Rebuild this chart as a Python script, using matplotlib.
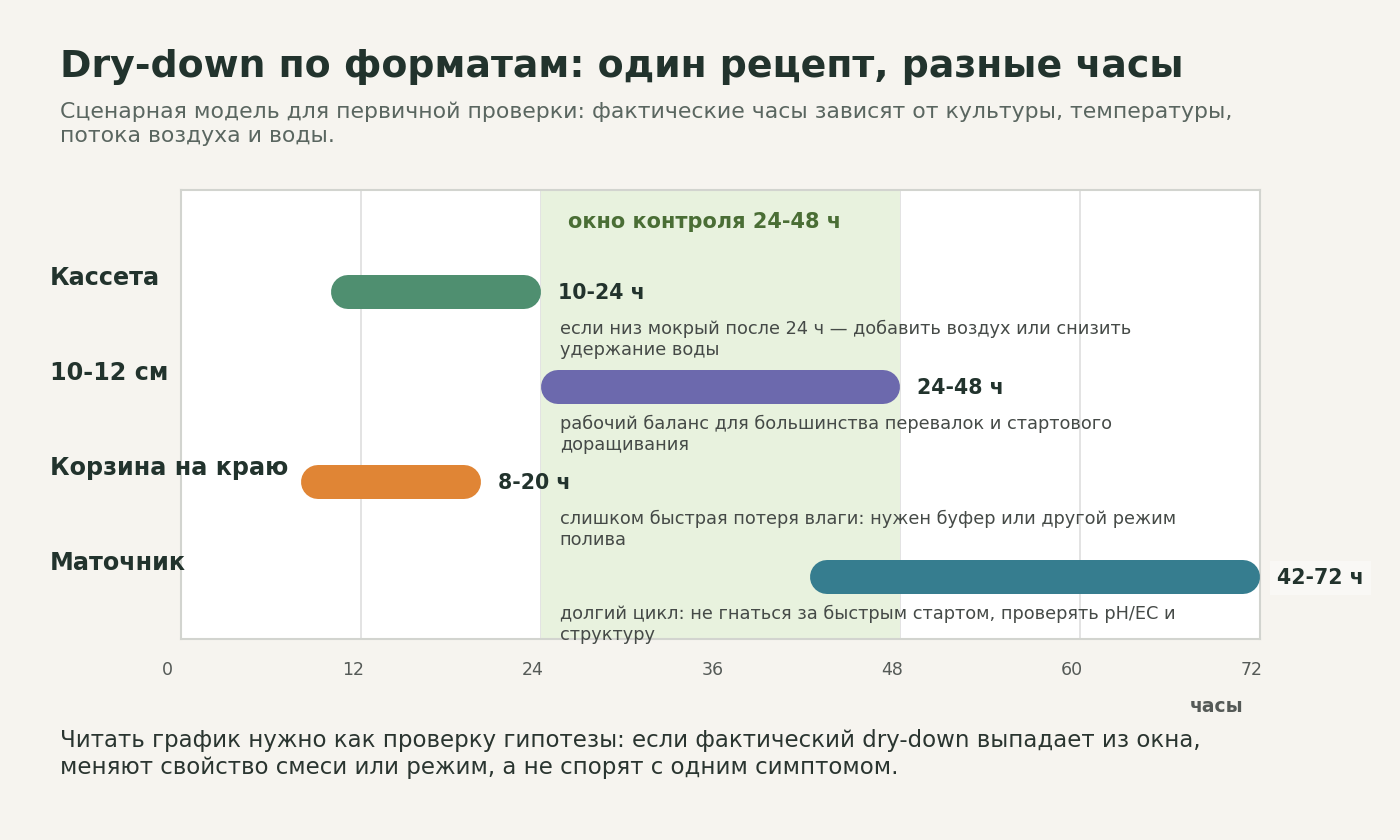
import matplotlib
matplotlib.use("Agg")
import matplotlib.pyplot as plt
from matplotlib.transforms import ScaledTranslation

plt.rcParams['font.family'] = ['DejaVu Sans']

categories = ["Кассета", "10-12 см", "Корзина на краю", "Маточник"]
starts = [10, 24, 8, 42]
ends = [24, 48, 20, 72]
range_labels = ["10-24 ч", "24-48 ч", "8-20 ч", "42-72 ч"]
notes = [
    "если низ мокрый после 24 ч — добавить воздух или снизить\nудержание воды",
    "рабочий баланс для большинства перевалок и стартового\nдоращивания",
    "слишком быстрая потеря влаги: нужен буфер или другой режим\nполива",
    "долгий цикл: не гнаться за быстрым стартом, проверять pH/EC и\nструктуру",
]
colors = ["#4f8f70", "#6c69ad", "#e08535", "#367d8f"]
window = (24, 48)
xticks = [0, 12, 24, 36, 48, 60, 72]

BG = "#f6f4ef"
DARK = "#22332d"

W, H, DPI = 14, 8.4, 100
fig = plt.figure(figsize=(W, H), dpi=DPI, facecolor=BG)
ax_left, ax_right, ax_top, ax_bot = 181, 1260, 190, 639
ax = fig.add_axes([ax_left / 1400, 1 - ax_bot / 840,
                   (ax_right - ax_left) / 1400, (ax_bot - ax_top) / 840])
ax.set_facecolor("white")
ax.set_xlim(0, 72)
n = len(categories)
ax.set_ylim(n - 1 + 0.653, -1.074)

# grid
for t in xticks:
    ax.axvline(t, color="#dedede", lw=1.2, zorder=0)
# control window
ax.axvspan(window[0], window[1], color="#e8f2de", zorder=1, lw=0)
ax.text((window[0] + window[1]) / 2 - 1.05, -0.74, "окно контроля 24-48 ч",
        ha="center", va="center", fontsize=15, fontweight="bold",
        color="#4a6e35", zorder=5)

px_per_h = (ax_right - ax_left) / 72
thick_px = 34
r_h = (thick_px / 2) / px_per_h
lw_pt = thick_px * 72 / DPI

for i, (cat, s, e, lab, note, c) in enumerate(zip(categories, starts, ends, range_labels, notes, colors)):
    ax.plot([s + r_h, e - r_h], [i, i], color=c, lw=lw_pt,
            solid_capstyle="round", zorder=3)
    box = None
    if e >= ax.get_xlim()[1]:
        box = dict(boxstyle="square,pad=0.35", fc="white", ec="none", alpha=0.4)
    ax.annotate(lab, xy=(e, i), xytext=(17, -1), textcoords="offset pixels",
                ha="left", va="center", fontsize=14.8, fontweight="bold",
                color=DARK, zorder=6, annotation_clip=False, bbox=box)
    ax.annotate(note, xy=(window[0], i), xytext=(19, -28), textcoords="offset pixels",
                ha="left", va="top", fontsize=12.8, color="#454a47",
                linespacing=1.2, zorder=6, annotation_clip=False)
    ax.annotate(cat, xy=(0, i), xycoords=("figure fraction", "data"),
                xytext=(50, 14), textcoords="offset pixels",
                ha="left", va="center", fontsize=17.2, fontweight="bold",
                color=DARK, annotation_clip=False)

ax.set_yticks([])
ax.set_xticks(xticks)
ax.set_xticklabels([str(t) for t in xticks])
ax.tick_params(axis="x", length=0, pad=16, labelsize=12.5, labelcolor="#555a57")
for t, lbl in zip(xticks, ax.get_xticklabels()):
    dx = -14 if t == 0 else -8
    lbl.set_transform(lbl.get_transform() + ScaledTranslation(dx / DPI, 0, fig.dpi_scale_trans))
for sp in ax.spines.values():
    sp.set_color("#d2d4cf")
    sp.set_linewidth(1.5)

fig.text(1217 / 1400, 1 - 706 / 840, "часы", ha="center", va="center",
         fontsize=13.5, fontweight="bold", color="#555a57")

fig.text(60 / 1400, 1 - 67 / 840, "Dry-down по форматам: один рецепт, разные часы",
         ha="left", va="center", fontsize=27.3, fontweight="bold", color=DARK)
fig.text(60 / 1400, 1 - 102 / 840,
         "Сценарная модель для первичной проверки: фактические часы зависят от культуры, температуры,\nпотока воздуха и воды.",
         ha="left", va="top", fontsize=15.8, color="#5a6660", linespacing=1.25)
fig.text(60 / 1400, 1 - 729 / 840,
         "Читать график нужно как проверку гипотезы: если фактический dry-down выпадает из окна,\nменяют свойство смеси или режим, а не спорят с одним симптомом.",
         ha="left", va="top", fontsize=16.5, color="#2a3530", linespacing=1.22)

fig.savefig("out.png", dpi=DPI, facecolor=BG)
